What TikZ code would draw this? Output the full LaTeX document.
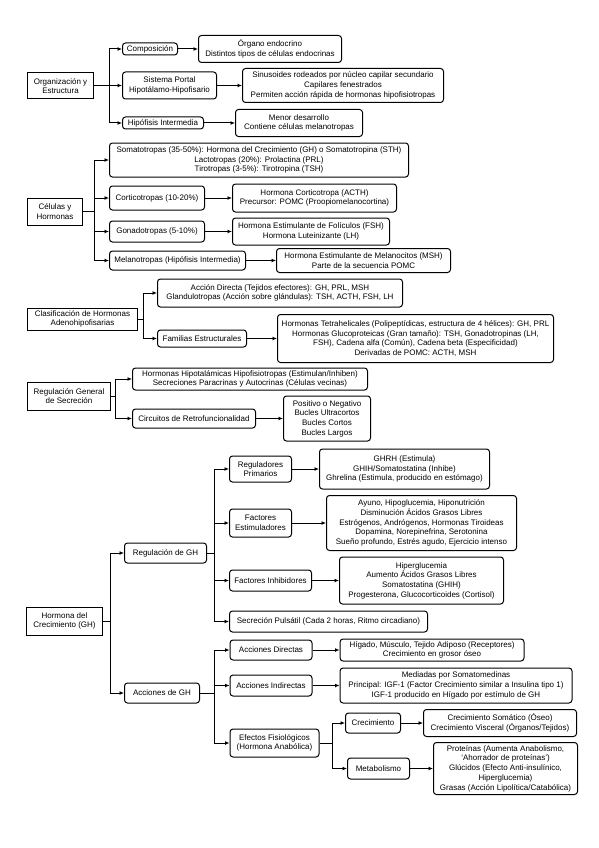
\documentclass[tikz,border=0pt]{standalone}
\usepackage{fontspec}
\setmainfont{Liberation Sans}
\usetikzlibrary{positioning,arrows.meta}

\begin{document}
\begin{tikzpicture}[
  x=1pt, y=-1pt,
  box/.style={draw, line width=1pt, align=center, inner xsep=3pt, inner ysep=1.5pt,
              font=\fontsize{8}{9.7}\selectfont},
  rootbox/.style={box, rectangle},
  item/.style={box, rounded corners=3pt},
  arr/.style={-{Latex[length=4.5pt,width=4pt]}, line width=1pt},
  link/.style={line width=1pt}
]
\useasboundingbox (0,0) rectangle (599,848);

\node[rootbox, anchor=west, minimum width=66pt, minimum height=26pt] (org) at (27,86) {Organización y\\Estructura};
\node[item, anchor=west, minimum width=55pt, minimum height=12pt] (comp) at (122,49) {Composición};
\node[item, right=20pt of comp, minimum width=143pt, minimum height=27pt] (organo) {Órgano endocrino\\Distintos tipos de células endocrinas};
\node[item, anchor=west, minimum width=94pt, minimum height=27pt] (portal) at (122,85.5) {Sistema Portal\\Hipotálamo-Hipofisario};
\node[item, right=25pt of portal, minimum width=201pt, minimum height=34pt] (sinus) {Sinusoides rodeados por núcleo capilar secundario\\Capilares fenestrados\\Permiten acción rápida de hormonas hipofisiotropas};
\node[item, anchor=west, minimum width=81pt, minimum height=12pt] (hipint) at (122,123) {Hipófisis Intermedia};
\node[item, right=31pt of hipint, minimum width=127pt, minimum height=27pt] (menor) {Menor desarrollo\\Contiene células melanotropas};

\node[rootbox, anchor=west, minimum width=55pt, minimum height=27pt] (cel) at (27,211.5) {Células y\\Hormonas};
\node[item, anchor=west, minimum width=299pt, minimum height=34pt] (soma) at (109,160) {Somatotropas (35-50\%): Hormona del Crecimiento (GH) o Somatotropina (STH)\\Lactotropas (20\%): Prolactina (PRL)\\Tirotropas (3-5\%): Tirotropina (TSH)};
\node[item, anchor=west, minimum width=95pt, minimum height=24pt] (cortico) at (109,198) {Corticotropas (10-20\%)};
\node[item, right=27pt of cortico, minimum width=164pt, minimum height=28pt] (acth) {Hormona Corticotropa (ACTH)\\Precursor: POMC (Proopiomelanocortina)};
\node[item, anchor=west, minimum width=95pt, minimum height=21pt] (gonado) at (109,231.5) {Gonadotropas (5-10\%)};
\node[item, right=27pt of gonado, minimum width=157pt, minimum height=27pt] (fsh) {Hormona Estimulante de Folículos (FSH)\\Hormona Luteinizante (LH)};
\node[item, anchor=west, minimum width=136pt, minimum height=19pt] (melano) at (109,260.5) {Melanotropas (Hipófisis Intermedia)};
\node[item, right=30pt of melano, minimum width=174pt, minimum height=24pt] (msh) {Hormona Estimulante de Melanocitos (MSH)\\Parte de la secuencia POMC};

\node[rootbox, anchor=west, minimum width=110pt, minimum height=22pt] (clasif) at (27,319) {Clasificación de Hormonas\\Adenohipofisarias};
\node[item, anchor=west, minimum width=245pt, minimum height=28pt] (accion) at (157,293) {Acción Directa (Tejidos efectores): GH, PRL, MSH\\Glandulotropas (Acción sobre glándulas): TSH, ACTH, FSH, LH};
\node[item, anchor=west, minimum width=89pt, minimum height=17pt] (familias) at (157,338.5) {Familias Estructurales};
\node[item, right=30pt of familias, minimum width=276pt, minimum height=48pt] (tetra) {Hormonas Tetrahelicales (Polipeptídicas, estructura de 4 hélices): GH, PRL\\Hormonas Glucoproteicas (Gran tamaño): TSH, Gonadotropinas (LH,\\FSH), Cadena alfa (Común), Cadena beta (Especificidad)\\Derivadas de POMC: ACTH, MSH};

\node[rootbox, anchor=west, minimum width=83pt, minimum height=28pt] (reggen) at (27,396) {Regulación General\\de Secreción};
\node[item, anchor=west, minimum width=235pt, minimum height=22pt] (hipot) at (132,379) {Hormonas Hipotalámicas Hipofisiotropas (Estimulan/Inhiben)\\Secreciones Paracrinas y Autocrinas (Células vecinas)};
\node[item, anchor=west, minimum width=123pt, minimum height=19pt] (circ) at (132,418.5) {Circuitos de Retrofuncionalidad};
\node[item, right=27pt of circ, minimum width=87pt, minimum height=45pt] (positivo) {Positivo o Negativo\\Bucles Ultracortos\\Bucles Cortos\\Bucles Largos};

\node[rootbox, anchor=west, minimum width=76pt, minimum height=28pt] (gh) at (26,621) {Hormona del\\Crecimiento (GH)};
\node[item, anchor=west, minimum width=82pt, minimum height=20pt] (reggh) at (124,553) {Regulación de GH};
\node[item, anchor=west, minimum width=62pt, minimum height=26pt] (regprim) at (229,469) {Reguladores\\Primarios};
\node[item, right=27pt of regprim, minimum width=170pt, minimum height=40pt] (ghrh) {GHRH (Estimula)\\GHIH/Somatostatina (Inhibe)\\Ghrelina (Estimula, producido en estómago)};
\node[item, anchor=west, minimum width=62pt, minimum height=28pt] (factest) at (229,523) {Factores\\Estimuladores};
\node[item, right=34pt of factest, minimum width=190pt, minimum height=55pt] (ayuno) {Ayuno, Hipoglucemia, Hiponutrición\\Disminución Ácidos Grasos Libres\\Estrógenos, Andrógenos, Hormonas Tiroideas\\Dopamina, Norepinefrina, Serotonina\\Sueño profundo, Estrés agudo, Ejercicio intenso};
\node[item, anchor=west, minimum width=82pt, minimum height=21pt] (factinh) at (229,580.5) {Factores Inhibidores};
\node[item, right=27pt of factinh, minimum width=164pt, minimum height=47pt] (hiper) {Hiperglucemia\\Aumento Ácidos Grasos Libres\\Somatostatina (GHIH)\\Progesterona, Glucocorticoides (Cortisol)};
\node[item, anchor=west, minimum width=198pt, minimum height=21pt] (pulsatil) at (229,621.5) {Secreción Pulsátil (Cada 2 horas, Ritmo circadiano)};
\node[item, anchor=west, minimum width=75pt, minimum height=20pt] (accgh) at (124,693) {Acciones de GH};
\node[item, anchor=west, minimum width=82pt, minimum height=20pt] (accdir) at (229.5,650) {Acciones Directas};
\node[item, right=27pt of accdir, minimum width=184pt, minimum height=22pt] (higado) {Hígado, Músculo, Tejido Adiposo (Receptores)\\Crecimiento en grosor óseo};
\node[item, anchor=west, minimum width=82pt, minimum height=21pt] (accind) at (229.5,685.5) {Acciones Indirectas};
\node[item, right=27pt of accind, minimum width=232pt, minimum height=35pt] (mediadas) {Mediadas por Somatomedinas\\Principal: IGF-1 (Factor Crecimiento similar a Insulina tipo 1)\\IGF-1 producido en Hígado por estímulo de GH};
\node[item, anchor=west, minimum width=89pt, minimum height=28pt] (efectos) at (229.5,743) {Efectos Fisiológicos\\(Hormona Anabólica)};
\node[item, anchor=west, minimum width=55pt, minimum height=20pt] (crec) at (345,723) {Crecimiento};
\node[item, right=22pt of crec, minimum width=153pt, minimum height=27pt] (somatico) {Crecimiento Somático (Óseo)\\Crecimiento Visceral (Órganos/Tejidos)};
\node[item, anchor=west, minimum width=62pt, minimum height=21pt] (metab) at (347,768.5) {Metabolismo};
\node[item, right=23pt of metab, minimum width=144pt, minimum height=52pt] (proteinas) {Proteínas (Aumenta Anabolismo,\\`Ahorrador de proteínas')\\Glúcidos (Efecto Anti-insulínico,\\Hiperglucemia)\\Grasas (Acción Lipolítica/Catabólica)};

\coordinate (t1) at (109,86);
\coordinate (t2) at (94,211.5);
\coordinate (t3) at (143,319);
\coordinate (t4) at (115,396);
\coordinate (t5) at (110,621);
\coordinate (t6) at (214,553);
\coordinate (t7) at (214,693);
\coordinate (t8) at (332,743);

\draw[link] (org.east) -- (t1);
\draw[arr] (t1) |- (comp.west);
\draw[arr] (t1) |- (portal.west);
\draw[arr] (t1) |- (hipint.west);
\draw[arr] (comp) -- (organo);
\draw[arr] (portal) -- (sinus);
\draw[arr] (hipint) -- (menor);

\draw[link] (cel.east) -- (t2);
\draw[arr] (t2) |- (soma.west);
\draw[arr] (t2) |- (cortico.west);
\draw[arr] (t2) |- (gonado.west);
\draw[arr] (t2) |- (melano.west);
\draw[arr] (cortico) -- (acth);
\draw[arr] (gonado) -- (fsh);
\draw[arr] (melano) -- (msh);

\draw[link] (clasif.east) -- (t3);
\draw[arr] (t3) |- (accion.west);
\draw[arr] (t3) |- (familias.west);
\draw[arr] (familias) -- (tetra);

\draw[link] (reggen.east) -- (t4);
\draw[arr] (t4) |- (hipot.west);
\draw[arr] (t4) |- (circ.west);
\draw[arr] (circ) -- (positivo);

\draw[link] (gh.east) -- (t5);
\draw[arr] (t5) |- (reggh.west);
\draw[arr] (t5) |- (accgh.west);
\draw[link] (reggh.east) -- (t6);
\draw[arr] (t6) |- (regprim.west);
\draw[arr] (t6) |- (factest.west);
\draw[arr] (t6) |- (factinh.west);
\draw[arr] (t6) |- (pulsatil.west);
\draw[arr] (regprim) -- (ghrh);
\draw[arr] (factest) -- (ayuno);
\draw[arr] (factinh) -- (hiper);
\draw[link] (accgh.east) -- (t7);
\draw[arr] (t7) |- (accdir.west);
\draw[arr] (t7) |- (accind.west);
\draw[arr] (t7) |- (efectos.west);
\draw[arr] (accdir) -- (higado);
\draw[arr] (accind) -- (mediadas);
\draw[link] (efectos.east) -- (t8);
\draw[arr] (t8) |- (crec.west);
\draw[arr] (t8) |- (metab.west);
\draw[arr] (crec) -- (somatico);
\draw[arr] (metab) -- (proteinas);
\end{tikzpicture}
\end{document}
